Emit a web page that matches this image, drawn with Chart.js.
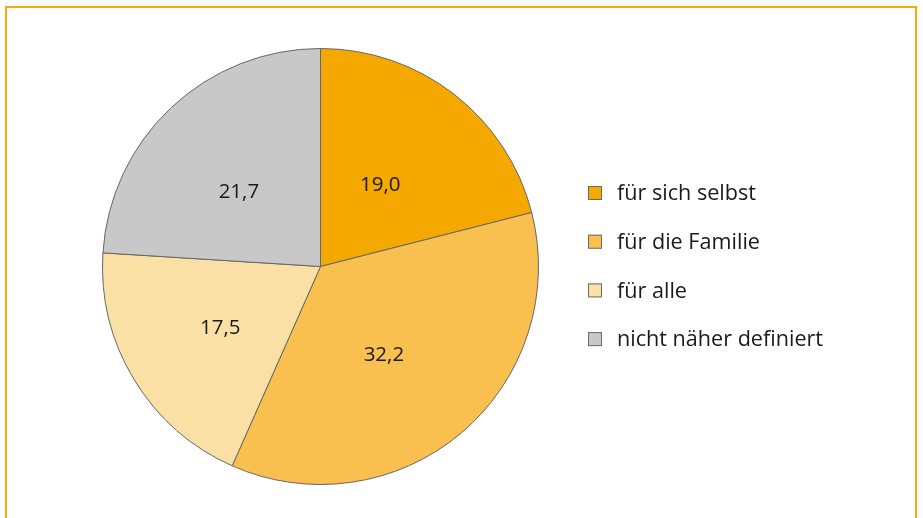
<!DOCTYPE html>
<html>
<head>
<meta charset="utf-8">
<script src="https://cdn.jsdelivr.net/npm/chart.js@4/dist/chart.umd.min.js"></script>
<style>
  html, body { margin: 0; padding: 0; background: #fff; width: 923px; height: 518px; overflow: hidden; }
  #frame { position: absolute; left: 5px; top: 6px; width: 912px; height: 600px; border: 2px solid #F6AA10; box-sizing: border-box; }
  #wrap { position: absolute; left: 0; top: 0; width: 923px; height: 518px; }
</style>
</head>
<body>
<div id="frame"></div>
<div id="wrap"><canvas id="c" width="923" height="518"></canvas></div>
<script>
const categories = ["für sich selbst", "für die Familie", "für alle", "nicht näher definiert"];
const values = [19.0, 32.2, 17.5, 21.7];
const valueLabels = ["19,0", "32,2", "17,5", "21,7"];
const colors = ["#F5A800", "#F9C04F", "#FBE0A6", "#C8C8C8"];

const FONT = "'Open Sans', Lato, sans-serif";

const sliceLabels = {
  id: 'sliceLabels',
  afterDatasetsDraw(chart) {
    const ctx = chart.ctx;
    const meta = chart.getDatasetMeta(0);
    ctx.save();
    ctx.font = "20.5px " + FONT;
    ctx.fillStyle = "#1a1a1a";
    ctx.textAlign = "center";
    ctx.textBaseline = "middle";
    meta.data.forEach((arc, i) => {
      const p = arc.getCenterPoint();
      ctx.fillText(valueLabels[i], p.x - 7, p.y + 5);
    });
    ctx.restore();
  }
};

const fixedLegend = {
  id: 'fixedLegend',
  afterDraw(chart) {
    const ctx = chart.ctx;
    const items = chart.options.plugins.legend.labels.generateLabels(chart);
    const x0 = 588, y0 = 193, step = 48.7, box = 14;
    ctx.save();
    ctx.font = "21.6px " + FONT;
    ctx.textBaseline = "middle";
    ctx.textAlign = "left";
    items.forEach((it, i) => {
      const y = y0 + i * step;
      ctx.fillStyle = it.fillStyle;
      ctx.fillRect(x0, y - box / 2, box, box);
      ctx.strokeStyle = "#6b6b6b";
      ctx.lineWidth = 1;
      ctx.strokeRect(x0 + 0.5, y - box / 2 + 0.5, box - 1, box - 1);
      ctx.fillStyle = "#1a1a1a";
      ctx.fillText(it.text, 617, y + 1);
    });
    ctx.restore();
  }
};

new Chart(document.getElementById('c'), {
  type: 'pie',
  data: {
    labels: categories,
    datasets: [{
      data: values,
      backgroundColor: colors,
      borderColor: "#666666",
      borderWidth: 1
    }]
  },
  options: {
    responsive: false,
    animation: false,
    layout: { padding: { left: 102, top: 48, right: 384, bottom: 33 } },
    plugins: {
      legend: { display: false },
      tooltip: { enabled: false }
    }
  },
  plugins: [sliceLabels, fixedLegend]
});
</script>
</body>
</html>
